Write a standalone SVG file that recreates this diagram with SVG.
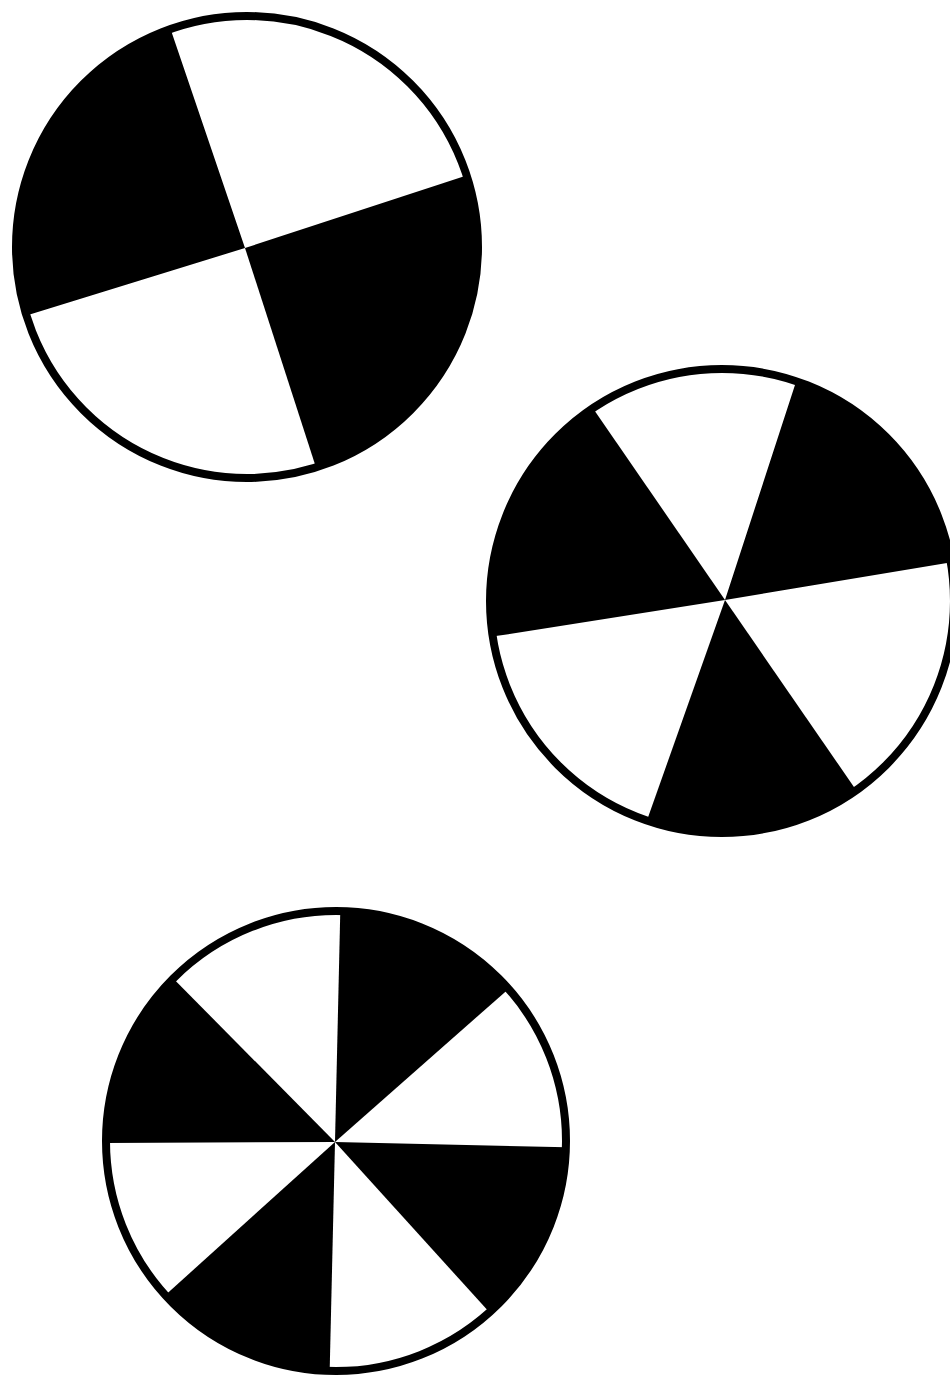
<svg xmlns="http://www.w3.org/2000/svg" width="950" height="1376" viewBox="0 0 950 1376">
<defs>
<style>
.ring{fill:none;stroke:#000;stroke-width:8}
.bg{fill:#fff}
.blk{fill:#000}
</style>
<clipPath id="c1"><circle cx="247" cy="247" r="231"/></clipPath>
<clipPath id="c2"><circle cx="722" cy="601" r="232"/></clipPath>
<clipPath id="c3"><circle cx="336" cy="1141" r="230"/></clipPath>
</defs>
<rect width="950" height="1376" fill="#fff"/>
<g id="disc1">
<circle class="bg" cx="247" cy="247" r="231"/>
<g clip-path="url(#c1)">
<polygon class="blk" points="245,248 160,-2 -20,-20 -20,330 -30,333"/>
<polygon class="blk" points="245,248 520,158 520,520 333,520"/>
</g>
<circle class="ring" cx="247" cy="247" r="231"/>
</g>
<g id="disc2">
<circle class="bg" cx="722" cy="601" r="232"/>
<g clip-path="url(#c2)">
<polygon class="blk" points="725,600 570,375 460,380 460,641 503,635"/>
<polygon class="blk" points="725,600 808,345 980,345 980,558 947,563"/>
<polygon class="blk" points="725,600 885,832 885,870 630,870 640,840"/>
</g>
<circle class="ring" cx="722" cy="601" r="232"/>
</g>
<g id="disc3">
<circle class="bg" cx="336" cy="1141" r="230"/>
<g clip-path="url(#c3)">
<polygon class="blk" points="335,1142 341,880 560,880 530,970"/>
<polygon class="blk" points="335,1142 150,955 80,955 80,1143"/>
<polygon class="blk" points="335,1142 140,1318 140,1400 329,1400"/>
<polygon class="blk" points="335,1142 600,1148 600,1400 510,1335"/>
</g>
<circle class="ring" cx="336" cy="1141" r="230"/>
</g>
</svg>
